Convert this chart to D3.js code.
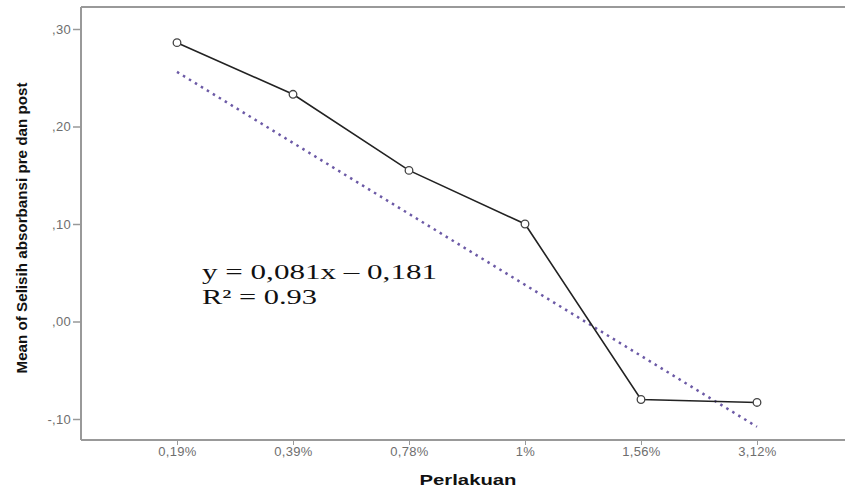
<!DOCTYPE html>
<html>
<head>
<meta charset="utf-8">
<script src="https://cdn.jsdelivr.net/npm/d3@7"></script>
<style>
  body { margin: 0; background: #fff; }
  .axis path, .axis line { stroke: #999; }
  .axis text { fill: #6e6e6e; font-family: "Liberation Sans", Arial, sans-serif; font-size: 13px; letter-spacing: 0.3px; }
</style>
</head>
<body>
<div id="chart"></div>
<script>
'use strict';

const categories = ["0,19%", "0,39%", "0,78%", "1%", "1,56%", "3,12%"];
const means = [0.286, 0.233, 0.155, 0.100, -0.080, -0.083];
// dotted fit line, value at the first and last category
const trendEnds = [0.256, -0.108];
const yTicks = [-0.1, 0, 0.1, 0.2, 0.3];
const yTickLabels = ["-,10", ",00", ",10", ",20", ",30"];
const equation = ["y = 0,081x \u2013 0,181", "R\u00b2 = 0.93"];

const size = { width: 845, height: 489 };
const margin = { top: 7, right: 0, bottom: 49, left: 81 };
const width = size.width - margin.left - margin.right;
const height = size.height - margin.top - margin.bottom;

const svg = d3.select("#chart").append("svg")
  .attr("width", size.width)
  .attr("height", size.height);

const graph = svg.append("g")
  .attr("transform", "translate(" + margin.left + "," + margin.top + ")");

// category positions: first at 96px, spacing 116px
const xScale = d3.scalePoint()
  .domain(categories)
  .range([96, 96 + 116 * (categories.length - 1)]);

const yScale = d3.scaleLinear()
  .domain([-0.1, 0.3])
  .range([412, 22]);

// frame: top and left lines
graph.append("line")
  .attr("x1", 0).attr("x2", width)
  .attr("y1", 0).attr("y2", 0)
  .attr("stroke", "#999").attr("stroke-width", 2);

const xAxis = d3.axisBottom(xScale).tickSize(5).tickPadding(2);
graph.append("g")
  .attr("class", "x axis")
  .attr("transform", "translate(0," + height + ")")
  .call(xAxis)
  .call(g => g.select(".domain").attr("d", "M0,0H" + width).attr("stroke-width", 2));

const yAxis = d3.axisLeft(yScale)
  .tickValues(yTicks)
  .tickFormat((d, i) => yTickLabels[i])
  .tickSize(8)
  .tickPadding(2);
graph.append("g")
  .attr("class", "y axis")
  .call(yAxis)
  .call(g => g.select(".domain").attr("d", "M0,0V" + height).attr("stroke-width", 2))
  .call(g => g.selectAll(".tick line").attr("stroke-width", 1.5));

// fit line
const first = categories[0], last = categories[categories.length - 1];
graph.append("line")
  .attr("x1", xScale(first)).attr("y1", yScale(trendEnds[0]))
  .attr("x2", xScale(last)).attr("y2", yScale(trendEnds[1]))
  .attr("stroke", "#6c5aa6")
  .attr("stroke-width", 2.5)
  .attr("stroke-dasharray", "2.5,4.5");

// mean line with open markers
const line = d3.line()
  .x((d, i) => xScale(categories[i]))
  .y(d => yScale(d));

graph.append("path")
  .datum(means)
  .attr("d", line)
  .attr("fill", "none")
  .attr("stroke", "#222")
  .attr("stroke-width", 1.6);

graph.selectAll(".marker")
  .data(means)
  .join("circle")
  .attr("class", "marker")
  .attr("cx", (d, i) => xScale(categories[i]))
  .attr("cy", d => yScale(d))
  .attr("r", 3.8)
  .attr("fill", "#fff")
  .attr("stroke", "#444")
  .attr("stroke-width", 1.3);

// regression annotation (widths)
const eqWidths = [235, 115];
graph.selectAll(".eq")
  .data(equation)
  .join("text")
  .attr("class", "eq")
  .attr("x", 121)
  .attr("y", (d, i) => 272 + i * 25)
  .attr("font-family", "'Liberation Serif', 'Times New Roman', serif")
  .attr("font-size", 22)
  .attr("textLength", (d, i) => eqWidths[i])
  .attr("lengthAdjust", "spacingAndGlyphs")
  .attr("fill", "#111")
  .text(d => d);

// axis titles
svg.append("text")
  .attr("x", 468)
  .attr("y", 485)
  .attr("text-anchor", "middle")
  .attr("font-family", "'Liberation Sans', Arial, sans-serif")
  .attr("font-weight", "bold")
  .attr("font-size", 15)
  .attr("textLength", 97)
  .attr("lengthAdjust", "spacingAndGlyphs")
  .attr("fill", "#111")
  .text("Perlakuan");

svg.append("text")
  .attr("transform", "translate(27,228) rotate(-90)")
  .attr("text-anchor", "middle")
  .attr("font-family", "'Liberation Sans Narrow', 'Arial Narrow', 'Liberation Sans', sans-serif")
  .attr("font-weight", "bold")
  .attr("font-size", 14)
  .attr("textLength", 291)
  .attr("lengthAdjust", "spacingAndGlyphs")
  .attr("fill", "#111")
  .text("Mean of Selisih absorbansi pre dan post");
</script>
</body>
</html>
